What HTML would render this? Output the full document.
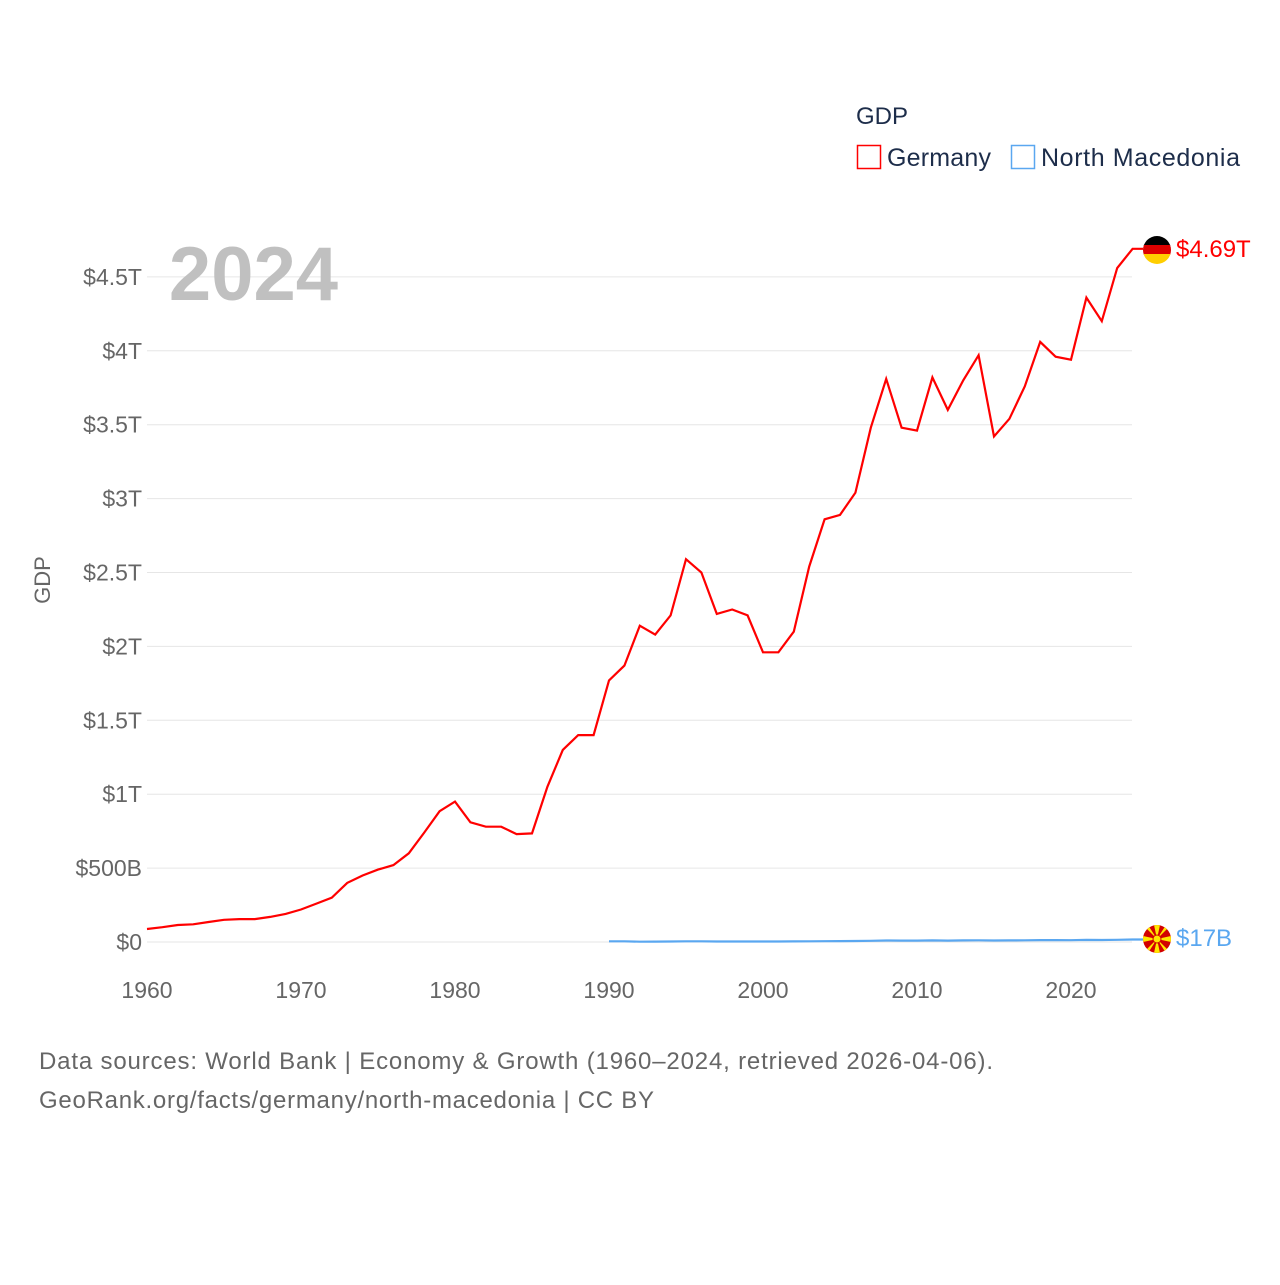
<!DOCTYPE html>
<html><head><meta charset="utf-8">
<style>
body{margin:0;background:#fff;font-family:"Liberation Sans",sans-serif;}
svg text{font-family:"Liberation Sans",sans-serif;}
</style></head>
<body>
<svg width="1280" height="1280" xmlns="http://www.w3.org/2000/svg">
<g id="grid"></g>
<g id="yticks"></g>
<g id="xticks"></g>
<text x="338" y="300" text-anchor="end" font-size="76" font-weight="bold" fill="#c0c0c0">2024</text>
<text transform="translate(50,580) rotate(-90)" text-anchor="middle" font-size="22" fill="#666">GDP</text>
<text x="856" y="124" font-size="24" fill="#1d2d4a">GDP</text>
<g><rect x="857.5" y="145.5" width="23" height="23" fill="none" stroke="#f00" stroke-width="1.5"/><text x="887" y="166" font-size="25" fill="#1d2d4a" textLength="104">Germany</text></g>
<g><rect x="1011.5" y="145.5" width="23" height="23" fill="none" stroke="#5aa7f0" stroke-width="1.5"/><text x="1041" y="166" font-size="25" fill="#1d2d4a" textLength="199">North Macedonia</text></g>
<path id="de" fill="none" stroke="#f00" stroke-width="2.2"/>
<path id="mk" fill="none" stroke="#5aa7f0" stroke-width="2.2"/>
<g>
<clipPath id="c1"><circle cx="1157" cy="250" r="14"/></clipPath>
<g clip-path="url(#c1)"><rect x="1143" y="236" width="28" height="10" fill="#000"/><rect x="1143" y="245" width="28" height="10" fill="#dd0000"/><rect x="1143" y="254" width="28" height="10" fill="#ffce00"/></g></g>
<g>
<clipPath id="c2"><circle cx="1157" cy="939" r="14"/></clipPath>
<g clip-path="url(#c2)"><rect x="1143" y="925" width="28" height="28" fill="#d20000"/>
<path d="M1157 939 L1143 925 L1148 925 Z M1157 939 L1171 925 L1166 925 Z M1157 939 L1143 953 L1148 953Z M1157 939 L1171 953 L1166 953Z M1157 939 L1154 925 L1160 925Z M1157 939 L1154 953 L1160 953Z M1157 939 L1143 936 L1143 942Z M1157 939 L1171 936 L1171 942Z" fill="#ffe600"/>
<circle cx="1157" cy="939" r="4" fill="#ffe600" stroke="#d20000" stroke-width="1"/></g></g>
<text x="1176" y="257" font-size="24" fill="#f00">$4.69T</text>
<text x="1176" y="946" font-size="24" fill="#5aa7f0">$17B</text>
<text x="39" y="1069" font-size="24" fill="#666" textLength="954">Data sources: World Bank | Economy &amp; Growth (1960–2024, retrieved 2026-04-06).</text>
<text x="39" y="1108" font-size="24" fill="#666" textLength="615">GeoRank.org/facts/germany/north-macedonia | CC BY</text>
</svg>
<script>
const deYears=[];for(let y=1960;y<=2024;y++)deYears.push(y);
const deValues=[0.088,0.10,0.115,0.12,0.135,0.15,0.155,0.155,0.17,0.19,0.22,0.26,0.30,0.40,0.45,0.49,0.52,0.60,0.74,0.885,0.95,0.81,0.78,0.78,0.73,0.735,1.05,1.30,1.40,1.40,1.77,1.87,2.14,2.08,2.21,2.59,2.50,2.22,2.25,2.21,1.96,1.96,2.10,2.54,2.86,2.89,3.04,3.48,3.81,3.48,3.46,3.82,3.60,3.80,3.97,3.42,3.54,3.76,4.06,3.96,3.94,4.36,4.20,4.56,4.69];
const mkYears=[];for(let y=1990;y<=2024;y++)mkYears.push(y);
const mkValuesB=[4.99,4.7,2.3,2.5,3.6,4.7,4.6,3.7,3.6,3.7,3.6,3.4,3.8,4.8,5.7,6.3,6.9,8.3,9.9,9.4,9.4,10.5,9.7,10.8,11.4,10.1,10.7,11.3,12.7,12.6,12.4,13.9,13.6,15.1,17];
const yTickVals=[0,0.5,1,1.5,2,2.5,3,3.5,4,4.5];
const yTickLabels=["$0","$500B","$1T","$1.5T","$2T","$2.5T","$3T","$3.5T","$4T","$4.5T"];
const xTickVals=[1960,1970,1980,1990,2000,2010,2020];
const X=y=>147+(y-1960)*15.4;
const Y=v=>942-v*147.8;
const ns="http://www.w3.org/2000/svg";
const g=document.getElementById('grid'),yt=document.getElementById('yticks'),xt=document.getElementById('xticks');
yTickVals.forEach((v,i)=>{
 const l=document.createElementNS(ns,'line');
 l.setAttribute('x1',147);l.setAttribute('x2',1132);l.setAttribute('y1',Y(v));l.setAttribute('y2',Y(v));
 l.setAttribute('stroke','#e6e6e6');l.setAttribute('stroke-width','1');
 
 
 g.appendChild(l);
 const t=document.createElementNS(ns,'text');
 t.setAttribute('x',142);t.setAttribute('y',Y(v)+8);t.setAttribute('text-anchor','end');
 t.setAttribute('font-size','23');t.setAttribute('fill','#666');t.textContent=yTickLabels[i];
 
 
 yt.appendChild(t);
});
xTickVals.forEach(v=>{
 const t=document.createElementNS(ns,'text');
 t.setAttribute('x',X(v));t.setAttribute('y',998);t.setAttribute('text-anchor','middle');
 t.setAttribute('font-size','23');t.setAttribute('fill','#666');t.textContent=v;
 
 
 xt.appendChild(t);
});
document.getElementById('de').setAttribute('d',deYears.map((y,i)=>(i?'L':'M')+X(y).toFixed(1)+' '+Y(deValues[i]).toFixed(1)).join(' ')+' L1143 '+Y(deValues[deValues.length-1]).toFixed(1));
document.getElementById('mk').setAttribute('d',mkYears.map((y,i)=>(i?'L':'M')+X(y).toFixed(1)+' '+Y(mkValuesB[i]/1000).toFixed(1)).join(' ')+' L1143 '+Y(mkValuesB[mkValuesB.length-1]/1000).toFixed(1));
</script>
</body></html>
